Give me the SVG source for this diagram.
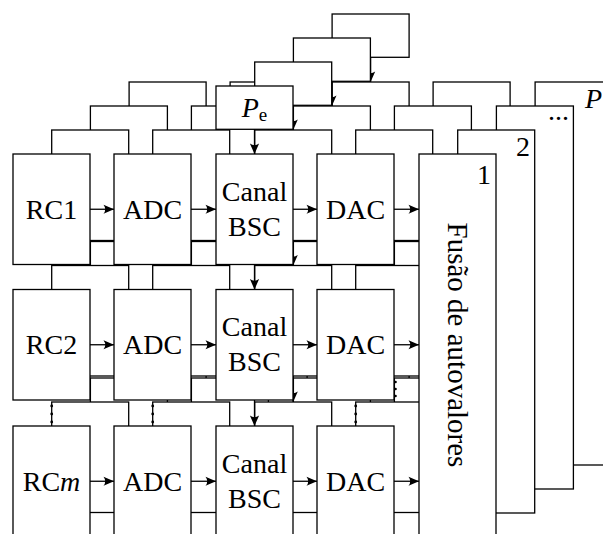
<svg xmlns="http://www.w3.org/2000/svg" xmlns:xlink="http://www.w3.org/1999/xlink" width="603" height="534" viewBox="0 0 603 534" font-family="'Liberation Serif','Times New Roman',serif">
<style>
.b{fill:#fff;stroke:#000;stroke-width:1.3}
.c{fill:none;stroke:#000;stroke-width:1.3;marker-end:url(#ah)}
text{font-family:"Liberation Serif","Times New Roman",serif;font-size:28px;fill:#000}
.m{text-anchor:middle}
.d{fill:#000}
</style>
<defs>
<marker id="ah" viewBox="-11 -6 12 12" refX="0" refY="0" markerWidth="12" markerHeight="12" markerUnits="userSpaceOnUse" orient="auto">
<path d="M0,0 L-10.5,-4.6 Q-7,0 -10.5,4.6 Z" fill="#000"/>
</marker>
<g id="layer">
<rect class="b" x="13" y="154" width="77" height="110.5"/>
<rect class="b" x="114" y="154" width="77" height="110.5"/>
<rect class="b" x="216" y="154" width="77" height="110.5"/>
<rect class="b" x="317" y="154" width="77" height="110.5"/>
<rect class="b" x="13" y="289.5" width="77" height="110.5"/>
<rect class="b" x="114" y="289.5" width="77" height="110.5"/>
<rect class="b" x="216" y="289.5" width="77" height="110.5"/>
<rect class="b" x="317" y="289.5" width="77" height="110.5"/>
<rect class="b" x="13" y="426" width="77" height="110.5"/>
<rect class="b" x="114" y="426" width="77" height="110.5"/>
<rect class="b" x="216" y="426" width="77" height="110.5"/>
<rect class="b" x="317" y="426" width="77" height="110.5"/>
<rect class="b" x="216" y="86" width="77" height="43.3"/>
<rect class="b" x="419" y="154" width="77" height="383"/>
<path class="c" d="M90,209.25H114"/>
<path class="c" d="M191,209.25H216"/>
<path class="c" d="M293,209.25H317"/>
<path class="c" d="M394,209.25H419"/>
<path class="c" d="M90,344.75H114"/>
<path class="c" d="M191,344.75H216"/>
<path class="c" d="M293,344.75H317"/>
<path class="c" d="M394,344.75H419"/>
<path class="c" d="M90,481.25H114"/>
<path class="c" d="M191,481.25H216"/>
<path class="c" d="M293,481.25H317"/>
<path class="c" d="M394,481.25H419"/>
<path class="c" d="M254.5,129.3V154"/>
<path class="c" d="M254.5,264.5V289.5"/>
<path class="c" d="M254.5,400V426"/>
</g>
</defs>

<g id="layer-P">
<use xlink:href="#layer" href="#layer" transform="translate(116.1,-72)"/>
<text x="585" y="108" font-style="italic">P</text>
</g>
<g id="layer-dots">
<use xlink:href="#layer" href="#layer" transform="translate(77.4,-48)"/>
<text x="569" y="120" text-anchor="end">...</text>
</g>
<g id="layer-2">
<use xlink:href="#layer" href="#layer" transform="translate(38.7,-24)"/>
<text x="530" y="156" text-anchor="end">2</text>
</g>

<g id="layer-1">
<g id="rc1"><rect class="b" x="13" y="154" width="77" height="110.5"/><text class="m" x="51.5" y="218.7">RC1</text></g>
<g id="adc1"><rect class="b" x="114" y="154" width="77" height="110.5"/><text class="m" x="152.5" y="218.7">ADC</text></g>
<g id="bsc1"><rect class="b" x="216" y="154" width="77" height="110.5"/><text class="m" x="254.5" y="200.7">Canal</text><text class="m" x="254.5" y="235.7">BSC</text></g>
<g id="dac1"><rect class="b" x="317" y="154" width="77" height="110.5"/><text class="m" x="355.5" y="218.7">DAC</text></g>
<g id="rc2"><rect class="b" x="13" y="289.5" width="77" height="110.5"/><text class="m" x="51.5" y="354.2">RC2</text></g>
<g id="adc2"><rect class="b" x="114" y="289.5" width="77" height="110.5"/><text class="m" x="152.5" y="354.2">ADC</text></g>
<g id="bsc2"><rect class="b" x="216" y="289.5" width="77" height="110.5"/><text class="m" x="254.5" y="336.2">Canal</text><text class="m" x="254.5" y="371.2">BSC</text></g>
<g id="dac2"><rect class="b" x="317" y="289.5" width="77" height="110.5"/><text class="m" x="355.5" y="354.2">DAC</text></g>
<g id="rcm"><rect class="b" x="13" y="426" width="77" height="110.5"/><text class="m" x="51.5" y="490.7">RC<tspan font-style="italic">m</tspan></text></g>
<g id="adcm"><rect class="b" x="114" y="426" width="77" height="110.5"/><text class="m" x="152.5" y="490.7">ADC</text></g>
<g id="bscm"><rect class="b" x="216" y="426" width="77" height="110.5"/><text class="m" x="254.5" y="472.7">Canal</text><text class="m" x="254.5" y="507.7">BSC</text></g>
<g id="dacm"><rect class="b" x="317" y="426" width="77" height="110.5"/><text class="m" x="355.5" y="490.7">DAC</text></g>
<g id="pe"><rect class="b" x="216" y="86" width="77" height="43.3"/><text class="m" x="254.5" y="117"><tspan font-style="italic">P</tspan><tspan font-size="19" dy="4">e</tspan></text></g>
<g id="fusao"><rect class="b" x="419" y="154" width="77" height="383"/><text x="491" y="184" text-anchor="end">1</text><text class="m" transform="translate(448,345) rotate(90)" style="font-size:29px">Fusão de autovalores</text></g>
<g id="connectors">
<path class="c" d="M90,209.25H114"/>
<path class="c" d="M191,209.25H216"/>
<path class="c" d="M293,209.25H317"/>
<path class="c" d="M394,209.25H419"/>
<path class="c" d="M90,344.75H114"/>
<path class="c" d="M191,344.75H216"/>
<path class="c" d="M293,344.75H317"/>
<path class="c" d="M394,344.75H419"/>
<path class="c" d="M90,481.25H114"/>
<path class="c" d="M191,481.25H216"/>
<path class="c" d="M293,481.25H317"/>
<path class="c" d="M394,481.25H419"/>
<path class="c" d="M254.5,129.3V154"/>
<path class="c" d="M254.5,264.5V289.5"/>
<path class="c" d="M254.5,400V426"/>
</g>
</g>

<g id="ellipsis-dots">
<circle class="d" cx="51.7" cy="406" r="1.4"/><circle class="d" cx="51.7" cy="414" r="1.4"/><circle class="d" cx="51.7" cy="422" r="1.4"/>
<circle class="d" cx="152.7" cy="406" r="1.4"/><circle class="d" cx="152.7" cy="414" r="1.4"/><circle class="d" cx="152.7" cy="422" r="1.4"/>
<circle class="d" cx="355.7" cy="406" r="1.4"/><circle class="d" cx="355.7" cy="414" r="1.4"/><circle class="d" cx="355.7" cy="422" r="1.4"/>
<circle class="d" cx="395.6" cy="382" r="1.2"/><circle class="d" cx="395.6" cy="389" r="1.2"/><circle class="d" cx="395.6" cy="396" r="1.2"/>
</g>
</svg>
